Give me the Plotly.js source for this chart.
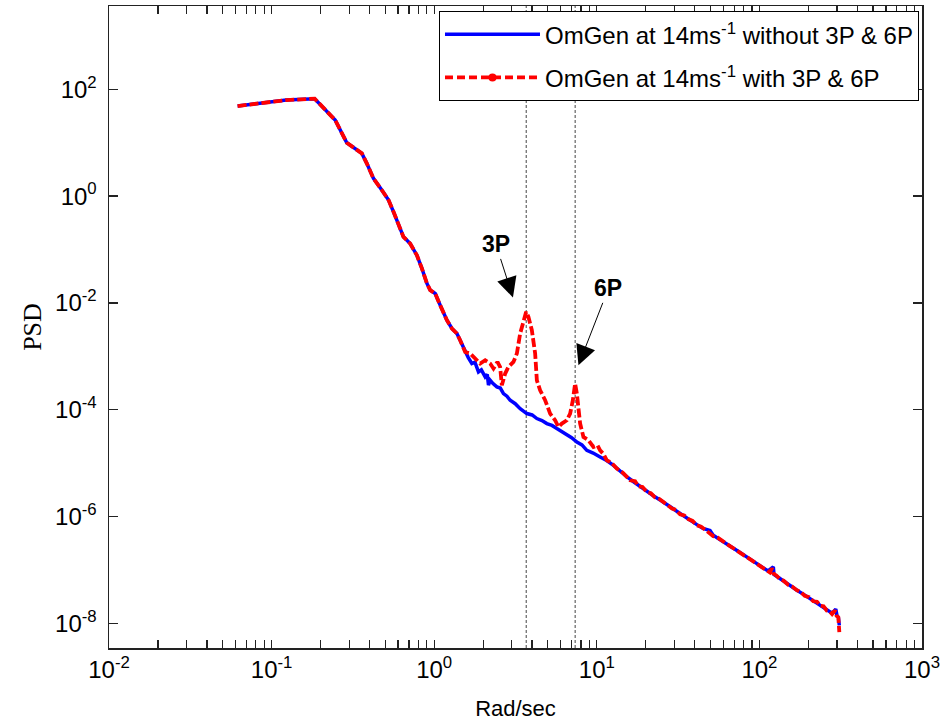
<!DOCTYPE html>
<html><head><meta charset="utf-8">
<script src="https://cdn.plot.ly/plotly-3.0.1.min.js"></script>
<style>html,body{margin:0;padding:0;background:#fff}#chart{width:943px;height:725px}</style>
</head><body><div id="chart"></div>
<script>
// Low-frequency part where both spectra coincide (rad/s, PSD)
const sharedFreq = [0.0618, 0.123, 0.184, 0.246, 0.290, 0.335, 0.359, 0.385, 0.423, 0.476, 0.524, 0.562, 0.618, 0.647, 0.711, 0.782, 0.840, 0.902, 0.945, 1.014, 1.088, 1.197, 1.285, 1.379, 1.444, 1.551];
const sharedPsd  = [48.6, 63.0, 66.7, 26.6, 10.0, 7.29, 6.32, 4.11, 2.15, 1.30, 0.843, 0.509, 0.231, 0.173, 0.130, 0.0786, 0.0443, 0.0232, 0.01736, 0.01506, 0.00909, 0.00476, 0.00333, 0.00268, 0.00201, 0.00121];

// Without 3P & 6P (blue)
const withoutFreq = [1.62, 1.704, 1.78, 1.872, 1.95, 2.058, 2.12, 2.157, 2.209, 2.30, 2.429, 2.55, 2.667, 2.80, 2.932, 3.15, 3.378, 3.714, 4.0, 4.279, 4.6, 4.929, 5.3, 5.678, 6.1, 6.543, 7.0, 7.54, 8.1, 8.682, 9.5, 10.48, 11.5, 12.66,
  14.0, 15.5, 17.0, 18.8, 20.5, 22.5, 24.8, 27.0, 29.5, 32.0, 35.0, 38.0, 41.5, 45.0, 49.7, 52.0, 57.0, 62.5, 68.0, 74.0, 81.0, 88.0, 96.0, 104.0, 113.0, 121.8, 123.0,
  133.0, 145.0, 158.0, 172.0, 187.0, 203.0, 220.0, 240.0, 260.0, 280.0, 295.0, 300.0, 306.0, 310.1];
const withoutPsd = [9.5e-4, 7.35e-4, 7.8e-4, 5.11e-4, 5.6e-4, 4.12e-4, 4.6e-4, 2.9e-4, 3.57e-4, 3.1e-4, 2.68e-4, 2.55e-4, 2.01e-4, 1.8e-4, 1.51e-4, 1.3e-4, 1.05e-4, 8.5e-5, 8.0e-5, 6.85e-5, 6.3e-5, 5.52e-5, 5.1e-5, 4.45e-5, 3.9e-5, 3.33e-5, 3.0e-5, 2.49e-5, 2.2e-5, 1.74e-5, 1.55e-5, 1.31e-5, 1.12e-5, 9.1e-6,
  6.9e-6, 5.4e-6, 4.4e-6, 3.5e-6, 2.85e-6, 2.4e-6, 2.0e-6, 1.65e-6, 1.4e-6, 1.18e-6, 1.0e-6, 8.4e-7, 7.0e-7, 6.0e-7, 5.5e-7, 4.5e-7, 3.8e-7, 3.15e-7, 2.65e-7, 2.25e-7, 1.85e-7, 1.58e-7, 1.33e-7, 1.13e-7, 9.6e-8, 1.15e-7, 8.2e-8,
  7.0e-8, 5.8e-8, 4.9e-8, 4.1e-8, 3.5e-8, 2.95e-8, 2.5e-8, 2.1e-8, 1.8e-8, 1.55e-8, 1.85e-8, 1.4e-8, 1.3e-8, 9.2e-9];

// With 3P & 6P (red dashed)
const withFreq = [1.664, 1.786, 1.918, 2.058, 2.209, 2.314, 2.449, 2.544, 2.606, 2.732, 2.862, 3.072, 3.224, 3.378, 3.539, 3.678, 3.799, 3.986, 4.176, 4.279, 4.482, 4.812, 5.164, 5.543, 5.808, 6.095, 6.543, 6.855, 7.123, 7.357, 7.54, 7.897, 8.276, 8.882, 9.535, 10.1, 10.48, 11.0, 11.53, 12.3, 13.28,
  14.5, 16.03, 17.2, 18.0, 19.1, 20.3, 21.5, 22.8, 24.2, 25.68, 27.3, 29.0, 30.8, 32.52, 34.5, 36.5, 38.8, 41.19, 43.8, 46.5, 49.2, 52.1, 55.3, 58.5, 62.0, 66.0, 70.0, 74.5, 79.0, 83.6, 88.5, 94.0, 100.0, 105.8, 111.0, 116.0, 119.5, 121.8, 127.0,
  134.0, 141.0, 150.0, 159.0, 169.7, 180.0, 190.0, 202.0, 214.6, 226.0, 237.0, 248.0, 259.4, 270.0, 280.0, 291.7, 298.0, 305.8, 310.1];
const withPsd = [0.00113, 0.000912, 0.000735, 0.000847, 0.000735, 0.000592, 0.000787, 0.000634, 0.000288, 0.000477, 0.000634, 0.000787, 0.00113, 0.00268, 0.00476, 0.00681, 0.00548, 0.00309, 0.00113, 0.000357, 0.000232, 0.000151, 0.0000850, 0.0000636, 0.0000477, 0.0000552, 0.0000636, 0.0000850, 0.000151, 0.000310, 0.000201, 0.0000552, 0.000031, 0.0000269, 0.0000201, 0.0000215, 0.0000174, 0.0000148, 0.0000113, 0.0000102, 0.00000792,
  6.6e-6, 4.78e-6, 4.6e-6, 3.7e-6, 3.6e-6, 2.88e-6, 2.75e-6, 2.3e-6, 2.15e-6, 1.87e-6, 1.62e-6, 1.42e-6, 1.33e-6, 1.1e-6, 1.05e-6, 9.0e-7, 8.3e-7, 6.86e-7, 6.5e-7, 5.6e-7, 5.1e-7, 4.3e-7, 4.05e-7, 3.55e-7, 3.2e-7, 2.8e-7, 2.5e-7, 2.2e-7, 2.0e-7, 1.74e-7, 1.58e-7, 1.38e-7, 1.24e-7, 1.08e-7, 1.01e-7, 9.0e-8, 1.08e-7, 8.6e-8, 7.9e-8,
  6.7e-8, 6.3e-8, 5.3e-8, 4.9e-8, 4.2e-8, 3.85e-8, 3.3e-8, 3.1e-8, 2.6e-8, 2.55e-8, 2.15e-8, 2.1e-8, 1.75e-8, 1.7e-8, 1.5e-8, 1.75e-8, 1.4e-8, 1.3e-8, 6.9e-9];

const seriesNames = ['OmGen at 14ms<sup>-1</sup> without 3P & 6P', 'OmGen at 14ms<sup>-1</sup> with 3P & 6P'];

// Harmonic markers
const harmonicFreq = [3.68, 7.36];
const harmonicLabels = ['<b>3P</b>', '<b>6P</b>'];
const harmonicTipFreq = [3.05, 7.71];
const harmonicTipPsd = [0.0127, 0.00068];

// Tick labels
const xTickVals = [0.01, 0.1, 1, 10, 100, 1000];
const xTickText = ['10<sup>-2</sup>', '10<sup>-1</sup>', '10<sup>0</sup>', '10<sup>1</sup>', '10<sup>2</sup>', '10<sup>3</sup>'];
const xMinorVals = [0.02,0.03,0.04,0.05,0.06,0.07,0.08,0.09, 0.2,0.3,0.4,0.5,0.6,0.7,0.8,0.9, 2,3,4,5,6,7,8,9, 20,30,40,50,60,70,80,90, 200,300,400,500,600,700,800,900];
const yTickVals = [1e-8, 1e-6, 1e-4, 1e-2, 1, 100];
const yTickText = ['10<sup>-8</sup>', '10<sup>-6</sup>', '10<sup>-4</sup>', '10<sup>-2</sup>', '10<sup>0</sup>', '10<sup>2</sup>'];

const allXTickVals = xTickVals.concat(xMinorVals);
const allXTickText = xTickText.concat(xMinorVals.map(() => ''));

const blueX = sharedFreq.concat(withoutFreq), blueY = sharedPsd.concat(withoutPsd);
const redX = sharedFreq.concat(withFreq), redY = sharedPsd.concat(withPsd);

const traces = [
  {x: blueX, y: blueY, type: 'scatter', mode: 'lines', name: seriesNames[0], legendgroup: 'a',
   line: {color: '#0000ff', width: 3.5}},
  {x: redX, y: redY, type: 'scatter', mode: 'lines', name: seriesNames[1], legendgroup: 'b', showlegend: false,
   line: {color: '#ff0000', width: 3.8, dash: '9px,3px'}},
  {x: [null], y: [null], type: 'scatter', mode: 'lines+markers', name: seriesNames[1], legendgroup: 'b',
   line: {color: '#ff0000', width: 3.8, dash: '8px,4px'}, marker: {color: '#ff0000', size: 8}}
];

const axisColor = '#222222';
const shapes = harmonicFreq.map(f => ({type: 'line', xref: 'x', yref: 'paper', x0: f, x1: f, y0: 0, y1: 1,
  line: {color: '#444444', width: 1, dash: '3px,2px'}, layer: 'below'}));

const arrowOffsets = [[-17, -53], [30, -77]];
const annotations = harmonicLabels.map((t, i) => ({
  x: Math.log10(harmonicTipFreq[i]), y: Math.log10(harmonicTipPsd[i]), xref: 'x', yref: 'y',
  text: t, showarrow: true, arrowhead: 2, arrowsize: 4, arrowwidth: 1, arrowcolor: '#000',
  ax: arrowOffsets[i][0], ay: arrowOffsets[i][1],
  font: {family: 'Liberation Sans, Arial, sans-serif', size: 23, color: '#000'}
}));

const layout = {
  width: 943, height: 725,
  margin: {l: 109, r: 21, t: 6, b: 77},
  paper_bgcolor: '#fff', plot_bgcolor: 'rgba(0,0,0,0)',
  font: {family: 'Liberation Sans, Arial, sans-serif', color: '#000'},
  showlegend: true,
  legend: {x: 0.9963, y: 0.992, xanchor: 'right', yanchor: 'top', bgcolor: '#fff',
    bordercolor: '#000', borderwidth: 1, traceorder: 'grouped', tracegroupgap: 9, itemwidth: 95,
    font: {size: 24, family: 'Liberation Sans, Arial, sans-serif', color: '#000'}},
  xaxis: {type: 'log', range: [-2, 3], showgrid: false, zeroline: false,
    showline: true, linecolor: axisColor, linewidth: 1.5, mirror: 'ticks',
    ticks: 'inside', ticklen: 8, tickcolor: axisColor, tickwidth: 1.3,
    tickmode: 'array', tickvals: allXTickVals, ticktext: allXTickText,
    tickfont: {size: 24, family: 'Liberation Sans, Arial, sans-serif', color: '#000'},
    title: {text: 'Rad/sec', font: {size: 22, family: 'Liberation Sans, Arial, sans-serif', color: '#000'}, standoff: 18}},
  yaxis: {type: 'log', range: [-8.46, 3.56], showgrid: false, zeroline: false,
    showline: true, linecolor: axisColor, linewidth: 1.5, mirror: 'ticks',
    ticks: 'inside', ticklen: 9, tickcolor: axisColor, tickwidth: 1.3,
    tickmode: 'array', tickvals: yTickVals, ticktext: yTickText,
    ticklabelstandoff: 6,
    tickfont: {size: 24, family: 'Liberation Sans, Arial, sans-serif', color: '#000'},
    title: {text: 'PSD', font: {size: 26, family: 'Liberation Serif, Times New Roman, serif', color: '#000'}, standoff: 6}},
  shapes: shapes,
  annotations: annotations
};

Plotly.newPlot('chart', traces, layout, {displayModeBar: false, staticPlot: true});
</script>
</body></html>
